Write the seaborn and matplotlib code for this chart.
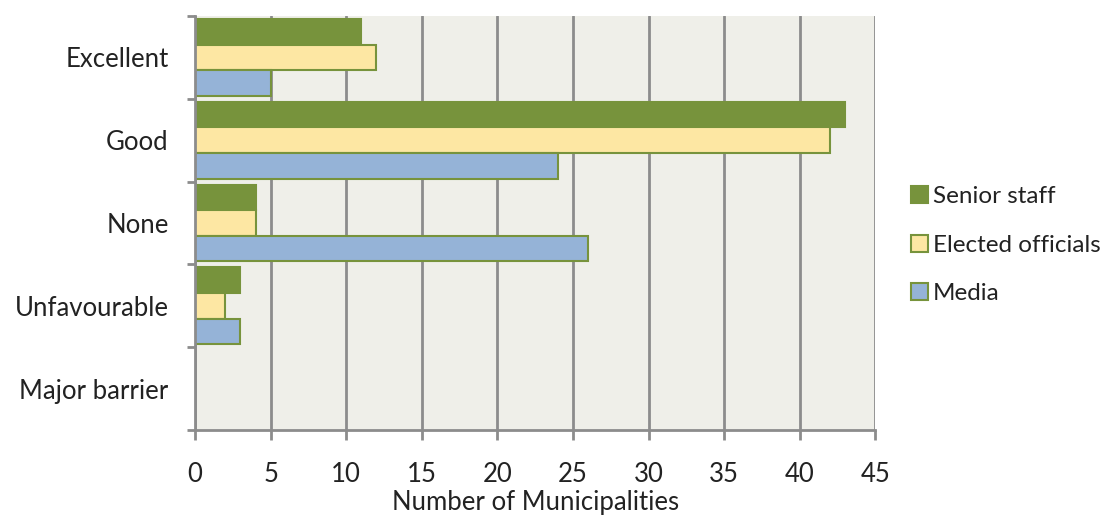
import pandas as pd
import matplotlib.pyplot as plt
import seaborn as sns
from matplotlib.patches import Patch

# Data
ratings = ["Excellent", "Good", "None", "Unfavourable", "Major barrier"]
senior_staff = [11, 43, 4, 3, 0]
elected_officials = [12, 42, 4, 2, 0]
media = [5, 24, 26, 3, 0]
groups = ["Senior staff", "Elected officials", "Media"]
colors = ["#77933C", "#FDE7A3", "#95B3D7"]
x_ticks = [0, 5, 10, 15, 20, 25, 30, 35, 40, 45]

df = pd.DataFrame({
    "Rating": ratings * 3,
    "Group": [g for g in groups for _ in ratings],
    "Count": senior_staff + elected_officials + media,
})

sns.set_theme(style="white")
plt.rcParams["font.family"] = ["Lato", "DejaVu Sans"]
fs = 18.5
txt = "#222222"

fig = plt.figure(figsize=(11.15, 5.18), dpi=100)
ax = fig.add_axes([0.175, 0.17, 0.61, 0.799])
ax.set_facecolor("#EFEFE9")

sns.barplot(data=df, y="Rating", x="Count", hue="Group", order=ratings,
            hue_order=groups, palette=colors, saturation=1, orient="h", width=0.93,
            edgecolor="#77933C", linewidth=1.5, legend=False, ax=ax)

ax.set_xlim(0, 45)
ax.set_ylim(4.5, -0.5)
ax.set_xticks(x_ticks)
ax.grid(axis="x", color="#8C8C8C", linewidth=2)
ax.set_axisbelow(True)

for s in ["top", "right"]:
    ax.spines[s].set_visible(False)
for s in ["left", "bottom"]:
    ax.spines[s].set_color("#8C8C8C")
    ax.spines[s].set_linewidth(2)

# category boundary tick marks on the y axis, labels centered
ax.set_yticks([i - 0.5 for i in range(len(ratings) + 1)], minor=True)
ax.tick_params(axis="y", which="minor", length=6, width=2, color="#8C8C8C", left=True)
ax.tick_params(axis="y", which="major", length=0, pad=19, labelsize=fs, labelcolor=txt)
ax.tick_params(axis="x", which="major", length=7, width=2, color="#8C8C8C", bottom=True,
               pad=16, labelsize=fs, labelcolor=txt)

ax.set_ylabel("")
ax.set_xlabel("Number of Municipalities", fontsize=fs, color=txt, labelpad=2)

handles = [Patch(facecolor=c, edgecolor="#77933C", linewidth=1.5) for c in colors]
fig.legend(handles, groups, loc="center left", bbox_to_anchor=(0.817, 0.527),
           frameon=False, fontsize=17.5, handlelength=0.7, handleheight=0.7,
           handletextpad=0.2, labelspacing=1.15, borderpad=0, borderaxespad=0,
           labelcolor=txt)

plt.savefig("out.png", dpi=100)
